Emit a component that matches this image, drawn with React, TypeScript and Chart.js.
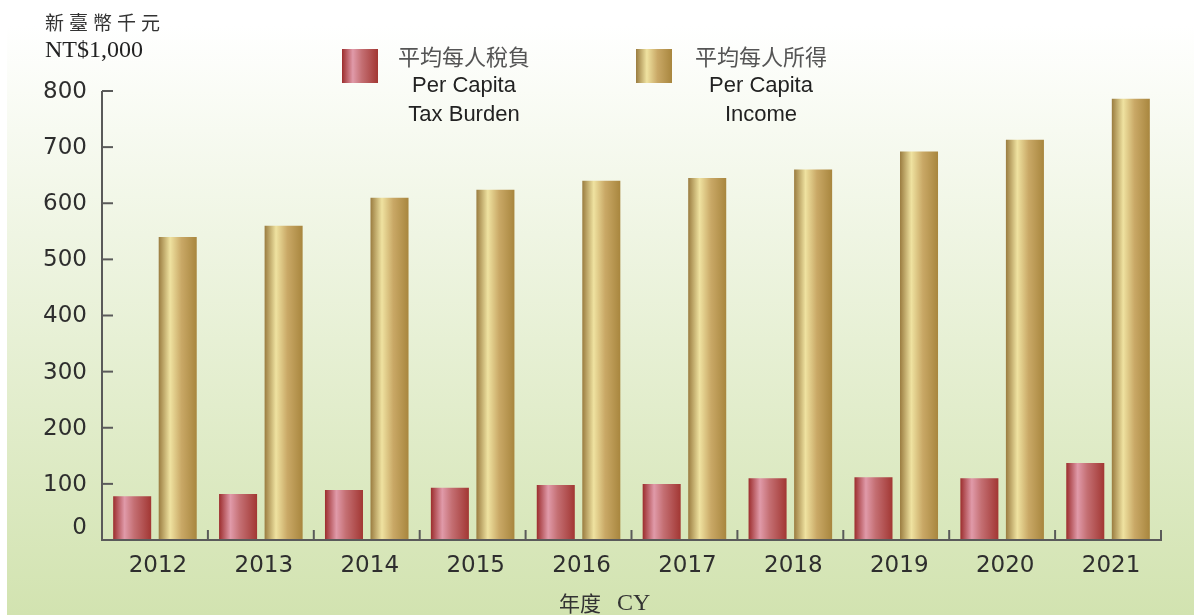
import React, { useEffect, useRef } from "react";
import { Chart, registerables } from "chart.js";

Chart.register(...registerables);

const years = ["2012", "2013", "2014", "2015", "2016", "2017", "2018", "2019", "2020", "2021"];
const taxBurden = [78, 82, 89, 93, 98, 100, 110, 112, 110, 137];
const income = [540, 560, 610, 624, 640, 645, 660, 692, 713, 786];
const yTicks = [0, 100, 200, 300, 400, 500, 600, 700, 800];
const legendZh = ["平均每人稅負", "平均每人所得"];
const legendEn = [["Per Capita", "Tax Burden"], ["Per Capita", "Income"]];
const unitZh = "新臺幣千元";
const unitEn = "NT$1,000";
const xTitleZh = "年度";
const xTitleEn = "CY";

const redStops: [number, string][] = [
  [0, "#9c2d2d"], [0.3, "#e09aa9"], [0.55, "#c46f73"], [1, "#a23733"],
];
const goldStops: [number, string][] = [
  [0, "#9a7c40"], [0.3, "#efe2a0"], [0.6, "#c9a866"], [1, "#a8863e"],
];

function hGrad(ctx: CanvasRenderingContext2D, left: number, width: number, stops: [number, string][]) {
  const g = ctx.createLinearGradient(left, 0, left + width, 0);
  stops.forEach(([o, c]) => g.addColorStop(o, c));
  return g;
}

const bgPlugin = {
  id: "bgPlugin",
  beforeDraw(chart: any) {
    const ctx: CanvasRenderingContext2D = chart.ctx;
    const w = chart.width, h = chart.height;
    ctx.save();
    ctx.fillStyle = "#ffffff";
    ctx.fillRect(0, 0, w, h);
    const g = ctx.createLinearGradient(0, 25, 0, h);
    g.addColorStop(0, "#ffffff");
    g.addColorStop(1, "#d2e3b0");
    ctx.fillStyle = g;
    ctx.fillRect(7, 25, w - 7, h - 25);
    ctx.restore();
  },
  beforeDatasetsDraw(chart: any) {
    const ctx: CanvasRenderingContext2D = chart.ctx;
    chart.data.datasets.forEach((ds: any, di: number) => {
      const meta = chart.getDatasetMeta(di);
      const stops = di === 0 ? redStops : goldStops;
      meta.data.forEach((el: any) => {
        const left = el.x - el.width / 2;
        el.options = Object.assign({}, el.options, { backgroundColor: hGrad(ctx, left, el.width, stops) });
      });
    });
  },
  afterDraw(chart: any) {
    const ctx: CanvasRenderingContext2D = chart.ctx;
    const xs = chart.scales.x;
    const ys = chart.scales.y;
    const area = chart.chartArea;
    const axisColor = "#5a5a5a";
    ctx.save();
    // axes
    ctx.strokeStyle = axisColor;
    ctx.lineWidth = 2;
    ctx.beginPath();
    ctx.moveTo(area.left, ys.getPixelForValue(800));
    ctx.lineTo(area.left, ys.getPixelForValue(0));
    ctx.lineTo(area.right + 1, ys.getPixelForValue(0));
    ctx.stroke();
    // y ticks (inside)
    yTicks.forEach((v) => {
      if (v === 0) return;
      const y = ys.getPixelForValue(v);
      ctx.beginPath();
      ctx.moveTo(area.left, y);
      ctx.lineTo(area.left + 11, y);
      ctx.stroke();
    });
    // x category boundary ticks (upward)
    const catW = (area.right - area.left) / years.length;
    for (let k = 1; k <= years.length; k++) {
      const x = area.left + k * catW;
      ctx.beginPath();
      ctx.moveTo(x, ys.getPixelForValue(0));
      ctx.lineTo(x, ys.getPixelForValue(0) - 10);
      ctx.stroke();
    }
    // y labels
    ctx.fillStyle = "#2e2e2e";
    ctx.font = "23px 'DejaVu Sans'";
    ctx.textAlign = "right";
    ctx.textBaseline = "middle";
    yTicks.forEach((v) => {
      const y = ys.getPixelForValue(v) - (v === 0 ? 13 : 0);
      ctx.fillText(String(v), area.left - 15, y + 1);
    });
    // x labels
    ctx.textAlign = "center";
    years.forEach((yr, i) => {
      ctx.fillText(yr, xs.getPixelForValue(i) + 3, 566);
    });
    // unit titles
    ctx.textAlign = "left";
    ctx.fillStyle = "#333333";
    ctx.font = "19px 'Noto Sans CJK TC'";
    Array.from(unitZh).forEach((c, i) => ctx.fillText(c, 45 + i * 24, 23));
    ctx.font = "24px 'Liberation Serif'";
    ctx.fillStyle = "#222222";
    ctx.fillText(unitEn, 45, 51);
    // x title
    ctx.font = "21px 'Noto Sans CJK TC'";
    ctx.fillStyle = "#333333";
    ctx.fillText(xTitleZh, 559, 603);
    ctx.font = "24px 'Liberation Serif'";
    ctx.fillText(xTitleEn, 617, 604);
    // legend
    const legendBoxes = [342, 636];
    const legendCenters = [464, 761];
    [redStops, goldStops].forEach((stops, i) => {
      const bx = legendBoxes[i];
      ctx.fillStyle = hGrad(ctx, bx, 36, stops);
      ctx.fillRect(bx, 49, 36, 34);
      ctx.textAlign = "center";
      ctx.fillStyle = "#555555";
      ctx.font = "22px 'Noto Sans CJK TC'";
      ctx.fillText(legendZh[i], legendCenters[i], 57);
      ctx.fillStyle = "#222222";
      ctx.font = "22px 'Liberation Sans'";
      ctx.fillText(legendEn[i][0], legendCenters[i], 86);
      ctx.fillText(legendEn[i][1], legendCenters[i], 115);
    });
    ctx.restore();
  },
};

export default function App() {
  const ref = useRef<HTMLCanvasElement>(null);
  useEffect(() => {
    if (!ref.current) return;
    const chart = new Chart(ref.current, {
      type: "bar",
      data: {
        labels: years,
        datasets: [
          { label: "Per Capita Tax Burden", data: taxBurden, backgroundColor: "#b04848", borderWidth: 0, categoryPercentage: 0.86, barPercentage: 0.835 },
          { label: "Per Capita Income", data: income, backgroundColor: "#c9a866", borderWidth: 0, categoryPercentage: 0.86, barPercentage: 0.835 },
        ],
      },
      options: {
        animation: false,
        responsive: false,
        maintainAspectRatio: false,
        events: [],
        layout: { padding: { left: 102, right: 33, top: 91, bottom: 75 } },
        plugins: { legend: { display: false }, tooltip: { enabled: false }, title: { display: false } },
        scales: {
          x: { display: false, offset: true },
          y: { display: false, min: 0, max: 800 },
        },
      },
      plugins: [bgPlugin],
    });
    return () => chart.destroy();
  }, []);
  return (
    <div style={{ position: "fixed", left: 0, top: 0, width: 1194, height: 615 }}>
      <canvas ref={ref} width={1194} height={615} style={{ width: 1194, height: 615, display: "block" }} />
    </div>
  );
}
